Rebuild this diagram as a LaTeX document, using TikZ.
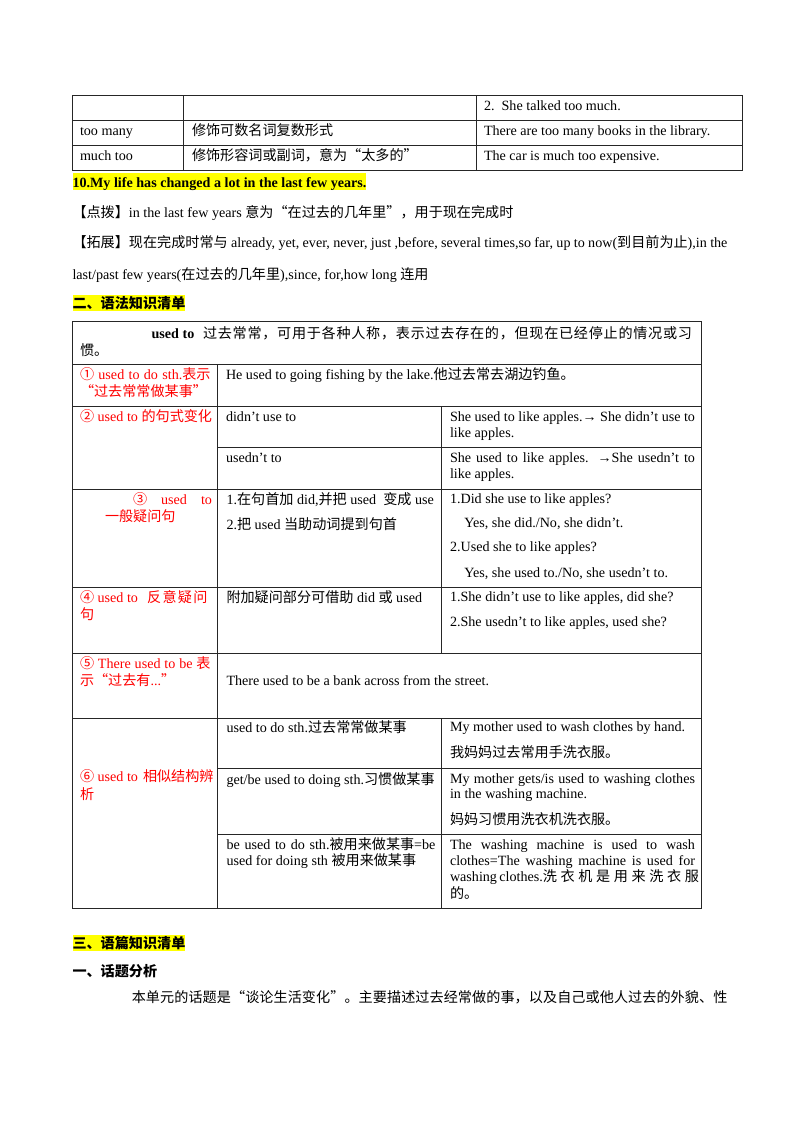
\documentclass[tikz,border=0pt]{standalone}
\usepackage{fontspec}
\setmainfont{Liberation Serif}
\newfontfamily\cjk[CharacterWidth=Full]{Noto Sans CJK SC}
\newcommand\z[1]{{\cjk #1}}
\newdimen\px \px=0.7441pt
\def\spreadend{SPREADEND}
\def\spreadA#1{\ifx\spreadend#1\else#1\hfil\expandafter\spreadA\fi}
\newcommand\spread[2]{\hbox to #1\px{\spreadA#2\spreadend\unskip}}
\definecolor{redtxt}{RGB}{255,0,0}
\definecolor{hlyellow}{RGB}{255,255,0}
\begin{document}
\begin{tikzpicture}[x=0.7441pt,y=-0.7441pt,
  every node/.style={inner sep=0pt,outer sep=0pt,anchor=base west,font=\fontsize{10.5pt}{12.6pt}\selectfont},
  grid/.style={line width=0.75pt,draw=black!85,line cap=rect},
  rt/.style={text=redtxt},
  hl/.style={fill=hlyellow,text height=10.2pt,text depth=2.2pt}]
\fill[white] (0,0) rectangle (800,1132);
\useasboundingbox (0,0) rectangle (800,1132);

% ---------- top table ----------
\foreach \yy in {95.7,120.7,145.7,170.3} \draw[grid] (72.7,\yy) -- (742,\yy);
\foreach \xx in {72.7,183.3,476,742} \draw[grid] (\xx,95.7) -- (\xx,170.3);
\node (ta1) at (484,110) {2.\ \ She talked too much.};
\node (tb0) at (80,135) {too many};
\node (tb1) at (192,135) {\z{修饰可数名词复数形式}};
\node (tb2) at (484,135) {There are too many books in the library.};
\node (tc0) at (80,160) {much too};
\node (tc1) at (192,160) {\z{修饰形容词或副词，意为“太多的”}};
\node (tc2) at (484,160) {The car is much too expensive.};

% ---------- paragraphs ----------
\node[hl] (p10) at (72.5,187) {\bfseries 10.My life has changed a lot in the last few years.};
\node (dianbo) at (72.5,217) {\z{【点拨】}in the last few years \z{意为“在过去的几年里”，用于现在完成时}};
\node (tuozhan) at (72.5,247) {\makebox[655\px][s]{\z{【拓展】现在完成时常与} already, yet, ever, never, just ,before, several times,so far, up to now(\z{到目前为止}),in the}};
\node (lastpast) at (72.5,279.5) {last/past few years(\z{在过去的几年里}),since, for,how long \z{连用}};
\node[hl] (h2) at (72.5,308.5) {\z{\bfseries 二、语法知识清单}};

% ---------- main table grid ----------
\foreach \yy in {321,364,406.7,489.3,587.3,653.3,718.3,908.3} \draw[grid] (72.7,\yy) -- (701,\yy);
\foreach \yy in {447.7,768.3,834.3} \draw[grid] (217.7,\yy) -- (701,\yy);
\draw[grid] (72.7,321) -- (72.7,908.3);
\draw[grid] (701,321) -- (701,908.3);
\draw[grid] (217.7,364) -- (217.7,908.3);
\draw[grid] (441.7,406.7) -- (441.7,653.3);
\draw[grid] (441.7,718.3) -- (441.7,908.3);

% header
\node (hd1) at (151.6,338) {\bfseries used to};
\node (hd2) at (203,338) {\z{\spread{489}{过去常常，可用于各种人称，表示过去存在的，但现在已经停止的情况或习}}};
\node (hd3) at (80,355.5) {\z{惯。}};

% row 1
\node[rt] (r1a) at (80,379.5) {\makebox[130.6\px][s]{\z{①} used to do sth.\z{表示}}};
\node[rt] (r1b) at (80,396.5) {\z{“过去常常做某事”}};
\node (r1c) at (226,379.5) {He used to going fishing by the lake.\z{他过去常去湖边钓鱼。}};

% row 2
\node[rt] (r2a) at (80,421.5) {\z{②} used to \z{的句式变化}};
\node (r2b) at (226,421.5) {didn't use to};
\node (r2c) at (450,421) {\makebox[245\px][s]{She used to like apples.→ She didn't use to}};
\node (r2d) at (450,437.5) {like apples.};
\node (r2e) at (226,462) {usedn't to};
\node (r2f) at (450,462) {\makebox[245\px][s]{She used to like apples. →She usedn't to}};
\node (r2g) at (450,478.5) {like apples.};

% row 3
\node[rt] (r3a) at (133,504) {\makebox[79\px][s]{\z{③} used to}};
\node[rt] (r3b) at (105,521) {\z{一般疑问句}};
\node (r3c) at (226.5,504) {1.\z{在句首加} did,\z{并把} used\ \ \z{变成} use};
\node (r3d) at (226.5,529.5) {2.\z{把} used \z{当助动词提到句首}};
\node (r3e) at (450,503.5) {1.Did she use to like apples?};
\node (r3f) at (464.4,527.5) {Yes, she did./No, she didn't.};
\node (r3g) at (450,551.5) {2.Used she to like apples?};
\node (r3h) at (464.4,577) {Yes, she used to./No, she usedn't to.};

% row 4
\node[rt] (r4a) at (80,602) {\z{④} used to\hskip 9\px\z{\spread{60.6}{反意疑问}}};
\node[rt] (r4b) at (80,619) {\z{句}};
\node (r4c) at (226.5,602) {\z{附加疑问部分可借助} did \z{或} used};
\node (r4d) at (450,601.5) {1.She didn't use to like apples, did she?};
\node (r4e) at (450,626.5) {2.She usedn't to like apples, used she?};

% row 5
\node[rt] (r5a) at (80,668) {\makebox[130.6\px][s]{\z{⑤} There used to be \z{表}}};
\node[rt] (r5b) at (80,685.5) {\z{示“过去有}...\z{”}};
\node (r5c) at (226.5,685) {There used to be a bank across from the street.};

% row 6
\node[rt] (r6a) at (80,781.5) {\z{⑥} used to\hskip 5\px\z{相似结构辨}};
\node[rt] (r6b) at (80,799) {\z{析}};
\node (r6c) at (226.5,732) {used to do sth.\z{过去常常做某事}};
\node (r6d) at (450,731.5) {My mother used to wash clothes by hand.};
\node (r6e) at (450,757.5) {\z{我妈妈过去常用手洗衣服。}};
\node (r6f) at (226.5,784) {get/be used to doing sth.\z{习惯做某事}};
\node (r6g) at (450,783) {\makebox[245\px][s]{My mother gets/is used to washing clothes}};
\node (r6h) at (450,798) {in the washing machine.};
\node (r6i) at (450,824.5) {\z{妈妈习惯用洗衣机洗衣服。}};
\node (r6j) at (226.5,849) {\makebox[209\px][s]{be used to do sth.\z{被用来做某事}=be}};
\node (r6k) at (226.5,865) {used for doing sth \z{被用来做某事}};
\node (r6l) at (450,849) {\makebox[245\px][s]{The washing machine is used to wash}};
\node (r6m) at (450,865) {\makebox[245\px][s]{clothes=The washing machine is used for}};
\node (r6n) at (450,881.5) {\hbox to 245\px{washing clothes.\hfil\z{\spread{156}{洗衣机是用来洗衣服}}}};
\node (r6o) at (450,898.5) {\z{的。}};

% ---------- section 3 ----------
\node[hl] (h3) at (72.5,948.5) {\z{\bfseries 三、语篇知识清单}};
\node (topic) at (72.5,976) {\z{\bfseries 一、话题分析}};
\node (intro) at (131.8,1002.5) {\z{\spread{595.6}{本单元的话题是“谈论生活变化”。主要描述过去经常做的事，以及自己或他人过去的外貌、性}}};
\end{tikzpicture}
\end{document}
